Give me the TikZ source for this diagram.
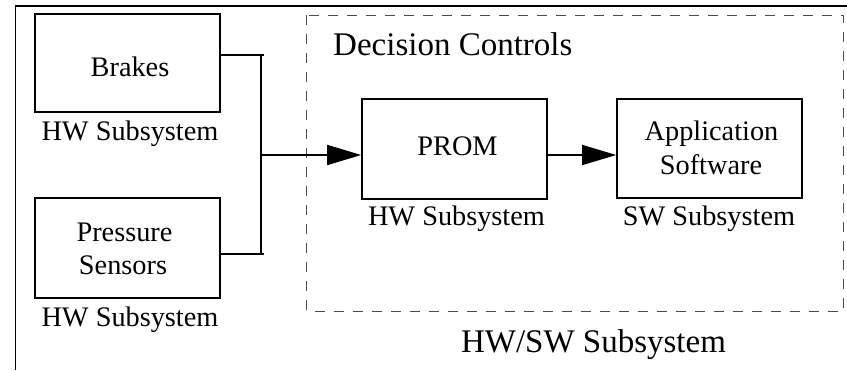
\documentclass[tikz,border=0pt]{standalone}
\usepackage{fontspec}
\setmainfont{Liberation Serif}
\usetikzlibrary{arrows.meta}
\begin{document}
\begin{tikzpicture}[x=1pt,y=-1pt,
  blk/.style={draw, line width=1.6pt, minimum width=185pt, minimum height=99pt, inner sep=0pt},
  txt/.style={anchor=base, inner sep=0pt, font=\fontsize{28.3}{33}\selectfont},
  bigtxt/.style={anchor=base, inner sep=0pt, font=\fontsize{33}{38}\selectfont},
  wire/.style={line width=1.6pt},
  flow/.style={wire, -{Triangle[length=34pt, width=20pt]}},
  group/.style={line width=0.9pt, dash pattern=on 10pt off 9pt, gray!60!black}]
  \useasboundingbox (0,0) rectangle (847,370);

  % outer frame (top and left edges)
  \draw[line width=1.8pt] (15.5,370) -- (15.5,6) -- (847,6);

  % decision-controls group
  \draw[group] (306.5,15) rectangle (843,311);
  \node[bigtxt, anchor=base west] (dc) at (333,55) {Decision Controls};
  \node[bigtxt] (hwsw) at (593.5,352.5) {HW/SW Subsystem};

  % blocks
  \node[blk, minimum height=98pt] (brakes) at (127.5,63) {};
  \node[blk, minimum height=100pt] (sensors) at (127.5,248) {};
  \node[blk, minimum height=100pt] (prom) at (454.5,149) {};
  \node[blk, minimum height=99pt] (app) at (709.5,148.5) {};

  % block texts
  \node[txt] (tbrakes) at (130,76) {Brakes};
  \node[txt] (tpress) at (124.5,241) {Pressure};
  \node[txt] (tsens) at (123,274) {Sensors};
  \node[txt] (tprom) at (457.5,155) {PROM};
  \node[txt] (tappl) at (711.5,140) {Application};
  \node[txt] (tsoft) at (711,174) {Software};

  % subsystem captions
  \node[txt] (c1) at (130,140) {HW Subsystem};
  \node[txt] (c2) at (130,326) {HW Subsystem};
  \node[txt] (c3) at (456.5,225) {HW Subsystem};
  \node[txt] (c4) at (709,225) {SW Subsystem};

  % bus joining the two inputs
  \coordinate (bt) at (264,55);
  \coordinate (bb) at (264,254);
  \coordinate (vt) at (261,55);
  \coordinate (vb) at (261,255);
  \coordinate (jn) at (261,155);
  \draw[wire] (brakes.east |- bt) -- (bt);
  \draw[wire] (sensors.east |- bb) -- (bb);
  \draw[wire] (vt) -- (vb);

  % data flow
  \draw[flow] (jn) -- (jn -| prom.west);
  \draw[flow] (prom.east |- jn) -- (app.west |- jn);
\end{tikzpicture}
\end{document}
